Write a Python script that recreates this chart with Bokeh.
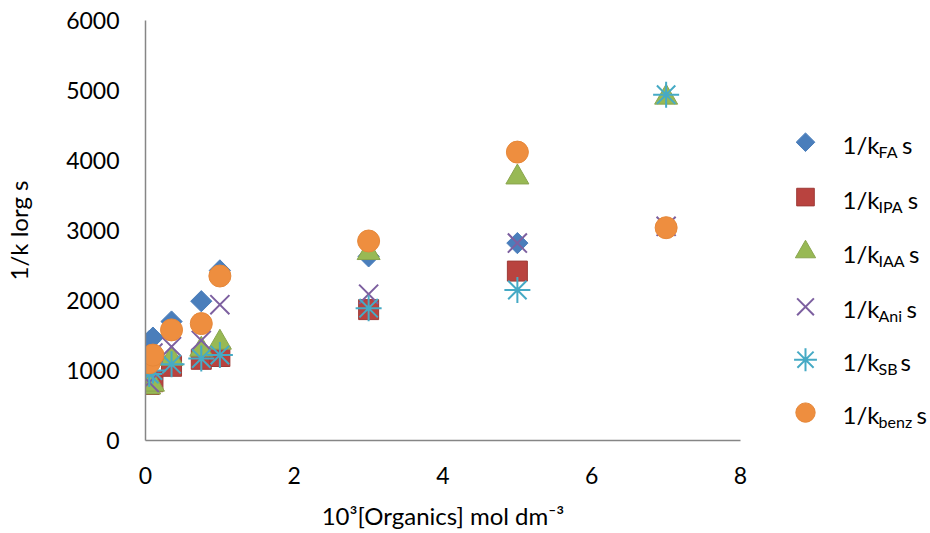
from bokeh.plotting import figure
from bokeh.layouts import row
from bokeh.models import Range1d, FixedTicker
from bokeh.core.properties import value
from bokeh.embed import file_html
from bokeh.resources import INLINE
import math

# ---------------- data ----------------
x_fa = [0.05, 0.1, 0.35, 0.75, 1.0, 3, 5]
k_fa = [1420, 1470, 1700, 1990, 2430, 2630, 2820]

x_ipa = [0.05, 0.1, 0.35, 0.75, 1.0, 3, 5]
k_ipa = [800, 840, 1060, 1160, 1200, 1870, 2420]

x_iaa = [0.05, 0.1, 0.35, 0.75, 1.0, 3, 5, 7]
k_iaa = [760, 800, 1170, 1300, 1400, 2680, 3760, 4900]

x_ani = [0.05, 0.1, 0.35, 0.75, 1.0, 3, 5, 7]
k_ani = [830, 1250, 1340, 1430, 1940, 2090, 2820, 3060]

x_sb = [0.05, 0.1, 0.35, 0.75, 1.0, 3, 5, 7]
k_sb = [950, 1000, 1090, 1170, 1220, 1890, 2150, 4940]

x_benz = [0.05, 0.1, 0.35, 0.75, 1.0, 3, 5, 7]
k_benz = [1110, 1220, 1580, 1670, 2350, 2850, 4120, 3040]

x_ticks = [0, 2, 4, 6, 8]
y_ticks = [0, 1000, 2000, 3000, 4000, 5000, 6000]

subs = ["FA", "IPA", "IAA", "Ani", "SB", "benz"]

FONT = "Lato"
TXT = "#000000"
AX = "#868686"

# ---------------- layout constants ----------------
H = 532
FT, FB = 20, 441          # frame top / bottom (px from top)
FL, FR = 145, 740         # frame left / right
MW = FR + 8               # main figure width
LW = 930 - MW             # legend panel width

# ---------------- main plot ----------------
p = figure(width=MW, height=H, output_backend="svg", toolbar_location=None,
           x_range=Range1d(0, 8), y_range=Range1d(0, 6000),
           min_border_left=FL, min_border_right=MW - FR, min_border_top=FT,
           min_border_bottom=H - FB)
p.outline_line_color = None
p.xgrid.visible = False
p.ygrid.visible = False
p.background_fill_color = "white"

for ax in (p.xaxis[0], p.yaxis[0]):
    ax.axis_line_color = AX
    ax.axis_line_width = 1.5
    ax.major_tick_line_color = None
    ax.minor_tick_line_color = None
    ax.major_tick_out = 0
    ax.major_tick_in = 0
    ax.major_label_text_font = FONT
    ax.major_label_text_font_size = "23px"
    ax.major_label_text_color = TXT
    ax.axis_label_text_font = FONT
    ax.axis_label_text_font_size = "24px"
    ax.axis_label_text_font_style = "normal"
    ax.axis_label_text_color = TXT

p.xaxis.ticker = FixedTicker(ticks=x_ticks)
p.yaxis.ticker = FixedTicker(ticks=y_ticks)
p.xaxis.major_label_standoff = 26
p.yaxis.major_label_standoff = 26
p.xaxis.axis_label = "10\u00b3[Organics] mol dm\u207b\u00b3"
p.yaxis.axis_label = "1/k lorg s"
p.xaxis.axis_label_standoff = 14
p.yaxis.axis_label_standoff = 30

styles = [
    dict(marker="square", angle=math.pi / 4, size=15, fill_color="#4A7EBB", line_color="#4A7EBB"),
    dict(marker="square", angle=0, size=20, fill_color="#B9433F", line_color="#9E3B37"),
    dict(marker="triangle", angle=0, size=23, fill_color="#98B954", line_color="#89A54E"),
    dict(marker="x", angle=0, size=27, fill_color=None, line_color="#7D60A0", line_width=2),
    dict(marker="asterisk", angle=0, size=26, fill_color=None, line_color="#46AAC5", line_width=2),
    dict(marker="circle", angle=0, size=22, fill_color="#EE8E3F", line_color="#E6883A"),
]
series = [(x_fa, k_fa), (x_ipa, k_ipa), (x_iaa, k_iaa),
          (x_ani, k_ani), (x_sb, k_sb), (x_benz, k_benz)]

for (xs, ys), st in zip(series, styles):
    p.scatter(xs, ys, **st)

# ---------------- legend panel (1 unit = 1 px) ----------------
leg = figure(width=LW, height=H, output_backend="svg", toolbar_location=None,
             x_range=Range1d(0, LW), y_range=Range1d(H - FB, H - FT),
             min_border_left=0, min_border_right=0,
             min_border_top=FT, min_border_bottom=H - FB,
             x_axis_type=None, y_axis_type=None)
leg.outline_line_color = None
leg.xgrid.visible = False
leg.ygrid.visible = False

# approximate character widths (em) for width estimation
cw = {'1': 0.58, '/': 0.37, 'k': 0.51, 'F': 0.54, 'A': 0.68, 'I': 0.29, 'P': 0.60,
      'n': 0.56, 'i': 0.25, 'S': 0.50, 'B': 0.63, 'b': 0.57, 'e': 0.53, 'z': 0.46,
      ' ': 0.22, 's': 0.42}

def tw(s, fs):
    return sum(cw.get(c, 0.55) for c in s) * fs

mx = 805 - MW
tx = 842 - MW
fs_main = 24
fs_sub = 16
row_y = [142, 197, 252, 307, 360, 413]

for i, (sub, st) in enumerate(zip(subs, styles)):
    yy = H - row_y[i]
    st2 = dict(st)
    st2["size"] = st["size"] * 0.88
    leg.scatter([mx], [yy], **st2)
    leg.text([tx], [yy - 2], text=["1/k"], text_font=value(FONT),
             text_font_size=f"{fs_main}px", text_baseline="middle", text_align="left",
             text_color=TXT)
    x1 = tx + tw("1/k", fs_main) + 1
    leg.text([x1], [yy - 9], text=[sub], text_font=value(FONT),
             text_font_size=f"{fs_sub}px", text_baseline="middle", text_align="left",
             text_color=TXT)
    x2 = x1 + tw(sub, fs_sub) + 4
    leg.text([x2], [yy - 2], text=["s"], text_font=value(FONT),
             text_font_size=f"{fs_main}px", text_baseline="middle", text_align="left",
             text_color=TXT)

layout = row(p, leg)
open("out.html", "w").write(file_html(layout, INLINE))
